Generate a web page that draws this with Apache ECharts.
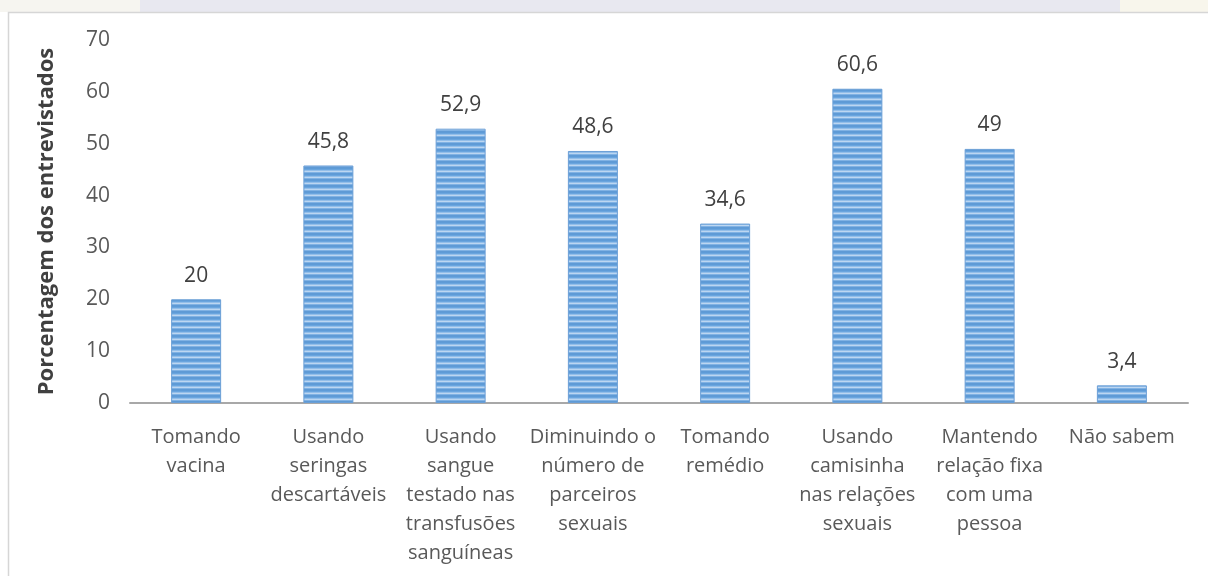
<!DOCTYPE html>
<html>
<head>
<meta charset="utf-8">
<script src="https://cdn.jsdelivr.net/npm/echarts@6/dist/echarts.min.js"></script>
<style>
  html, body { margin: 0; padding: 0; background: #ffffff; }
  #chart { width: 1208px; height: 576px; }
</style>
</head>
<body>
<div id="chart"></div>
<script>
// Formas de prevenção citadas pelos entrevistados (%)
const categories = [
  'Tomando\nvacina',
  'Usando\nseringas\ndescartáveis',
  'Usando\nsangue\ntestado nas\ntransfusões\nsanguíneas',
  'Diminuindo o\nnúmero de\nparceiros\nsexuais',
  'Tomando\nremédio',
  'Usando\ncamisinha\nnas relações\nsexuais',
  'Mantendo\nrelação fixa\ncom uma\npessoa',
  'Não sabem'
];
const percentValues = [20, 45.8, 52.9, 48.6, 34.6, 60.6, 49, 3.4];
const yTicks = [0, 10, 20, 30, 40, 50, 60, 70];

// Striped blue fill for the bars
function stripeCanvas() {
  const c = document.createElement('canvas');
  c.width = 8; c.height = 6;
  const ctx = c.getContext('2d');
  const rows = ['#5e9bd7', '#6aa5de', '#93bee9', '#bcd6f1', '#80b2e4', '#5f9ad5'];
  rows.forEach((col, i) => { ctx.fillStyle = col; ctx.fillRect(0, i, 8, 1); });
  return c;
}

const chart = echarts.init(document.getElementById('chart'), null, { renderer: 'canvas' });
const font = '"Open Sans", Lato, sans-serif';

chart.setOption({
  animation: false,
  backgroundColor: '#ffffff',
  graphic: [
    { type: 'rect', shape: { x: 0, y: 0, width: 1208, height: 12 }, style: { fill: '#e8e8f0' }, silent: true },
    { type: 'rect', shape: { x: 0, y: 0, width: 140, height: 12 }, style: { fill: '#f6f5f0' }, silent: true },
    { type: 'rect', shape: { x: 1120, y: 0, width: 88, height: 12 }, style: { fill: '#f8f6ec' }, silent: true },
    { type: 'rect', shape: { x: 8.5, y: 12.5, width: 1230, height: 600 }, style: { fill: 'none', stroke: '#d6d6d6', lineWidth: 1.5 }, silent: true }
  ],
  grid: { left: 130, right: 20, top: 40, bottom: 173 },
  xAxis: {
    type: 'category',
    data: categories,
    axisLine: { show: true, lineStyle: { color: '#a8a8a8', width: 2 } },
    axisTick: { show: false },
    axisLabel: {
      interval: 0,
      margin: 20,
      color: '#595959',
      fontFamily: font,
      fontSize: 20,
      lineHeight: 29,
      align: 'center'
    }
  },
  yAxis: {
    type: 'value',
    min: yTicks[0],
    max: yTicks[yTicks.length - 1],
    interval: 10,
    name: 'Porcentagem dos entrevistados',
    nameLocation: 'middle',
    nameGap: 72,
    nameTextStyle: { color: '#404040', fontFamily: font, fontSize: 22, fontWeight: 'bold' },
    axisLine: { show: false },
    axisTick: { show: false },
    splitLine: { show: false },
    axisLabel: { margin: 20, color: '#595959', fontFamily: font, fontSize: 21 }
  },
  series: [{
    type: 'bar',
    data: percentValues,
    barWidth: 50,
    itemStyle: {
      color: { image: stripeCanvas(), repeat: 'repeat' },
      borderColor: '#6b9fd6',
      borderWidth: 1
    },
    label: {
      show: true,
      position: 'top',
      distance: 13,
      color: '#404040',
      fontFamily: font,
      fontSize: 21,
      formatter: p => String(p.value).replace('.', ',')
    }
  }]
});
</script>
</body>
</html>
